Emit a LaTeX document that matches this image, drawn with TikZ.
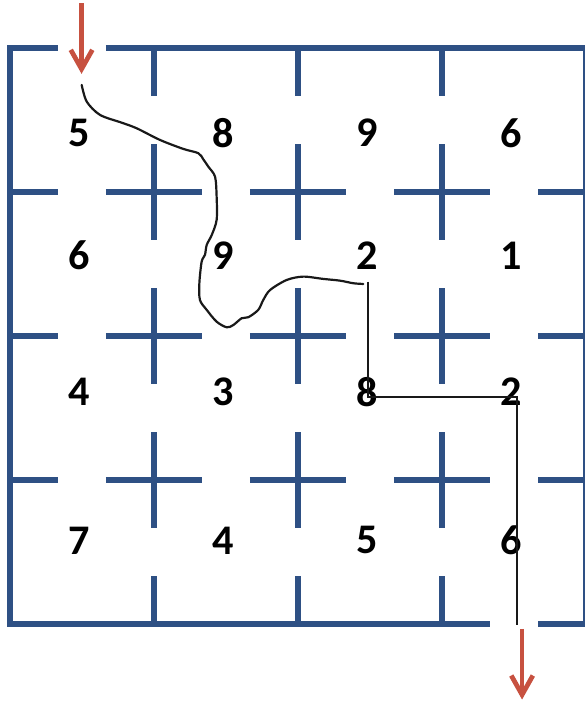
\documentclass[tikz,border=0pt]{standalone}
\usepackage{fontspec}
\setsansfont{Carlito}
\usepackage{tikz}
\usetikzlibrary{arrows.meta}
\definecolor{MazeBlue}{RGB}{46,80,132}
\definecolor{ExitRed}{RGB}{199,81,64}

\begin{document}
\begin{tikzpicture}[
  x=3cm, y=3cm,
  wall/.style={line width=3.5pt, draw=MazeBlue},
  route/.style={line width=1.3pt, draw=black!90},
  flow/.style={line width=2.8pt, draw=ExitRed, -{Straight Barb[length=0.4cm, width=0.45cm]}},
  cost/.style={font=\sffamily\bfseries\fontsize{25}{30}\selectfont, inner sep=0pt},
]
\useasboundingbox (-0.0694,-0.535) rectangle (3.993,4.333);

% --- Outer frame, open at entry and exit ---
\draw[wall, line join=miter] (1/3,4) -| (0,0) -- (10/3,0);
\draw[wall, line join=miter] (2/3,4) -| (4,0) -- (11/3,0);

% --- Wall stubs and crosses ---
\foreach \i in {1,2,3} {
  \draw[wall] (\i,4) -- (\i,4-1/3);
  \draw[wall] (\i,0) -- (\i,1/3);
  \draw[wall] (0,\i) -- (1/3,\i);
  \draw[wall] (4,\i) -- (4-1/3,\i);
  \foreach \j in {1,2,3} {
    \draw[wall] (\i-1/3,\j) -- (\i+1/3,\j);
    \draw[wall] (\i,\j-1/3) -- (\i,\j+1/3);
  }
}

% --- Cell costs ---
\foreach \y/\vals [count=\r] in {3.41/{5,8,9,6}, 2.56/{6,9,2,1}, 1.61/{4,3,8,2}, 0.58/{7,4,5,6}} {
  \foreach \v [count=\c] in \vals {
    \node[cost] (n\r\c) at (\c-0.52, \y) {\v};
  }
}

% --- Hand-drawn route ---
\draw[route, line cap=round] plot[smooth, tension=0.5] coordinates {
  (0.498,3.743) (0.533,3.627) (0.625,3.535) (0.776,3.481) (0.880,3.442)
  (1.042,3.361) (1.203,3.299) (1.308,3.269) (1.342,3.227) (1.377,3.176)
  (1.424,3.106) (1.435,2.967) (1.435,2.806) (1.401,2.701) (1.366,2.632)
  (1.354,2.563) (1.331,2.516) (1.315,2.366) (1.319,2.250) (1.366,2.181)
  (1.435,2.099) (1.505,2.060) (1.551,2.076) (1.609,2.123) (1.655,2.130)
  (1.724,2.181) (1.759,2.250) (1.806,2.319) (1.922,2.389) (2.037,2.412)
  (2.176,2.396) (2.292,2.384) (2.384,2.366) (2.453,2.361)};
\coordinate (turn) at (2.484,2.377);
\coordinate (out) at (3.519,-0.007);
\draw[route] (turn) |- (3.519,1.578) -- (out);

% --- Entry and exit arrows ---
\coordinate (in-tail) at (0.497,4.31);
\coordinate (in-tip) at (0.497,3.82);
\coordinate (out-tail) at (3.556,-0.035);
\coordinate (out-tip) at (3.556,-0.525);
\draw[flow] (in-tail) -- (in-tip);
\draw[flow] (out-tail) -- (out-tip);

\end{tikzpicture}
\end{document}
